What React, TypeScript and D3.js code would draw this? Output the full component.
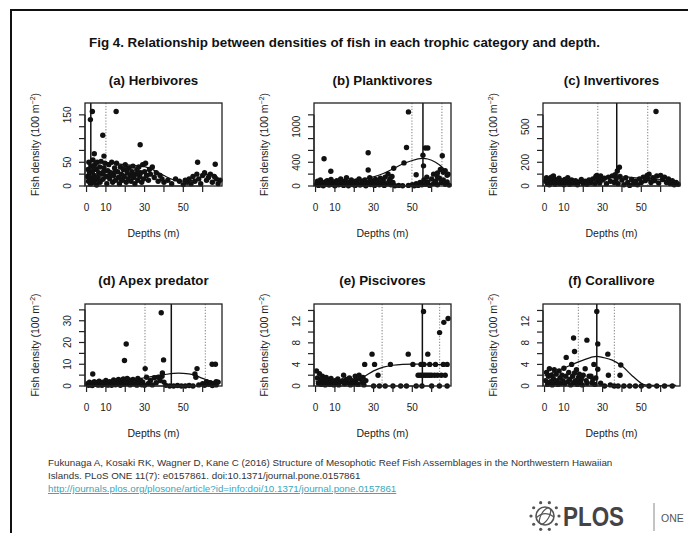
import React from 'react';
import * as d3 from 'd3';

// ---------- data ----------
const depthTicks = [0, 10, 20, 30, 40, 50, 60];
const depthLabels = [0, 10, 30, 50];

const panelTitles = ['(a) Herbivores', '(b) Planktivores', '(c) Invertivores', '(d) Apex predator', '(e) Piscivores', '(f) Corallivore'];

const herbivorePoints: [number, number][] = [
  [2, 140], [3, 157], [4, 68], [8.4, 107], [9, 63], [15.3, 157], [27.7, 87], [57.4, 50], [66.5, 46],
  [0.5, 20], [0.8, 35], [1, 10], [1.2, 50], [1.5, 28], [2, 5], [2.2, 42], [2.5, 15], [3, 30], [3.3, 55], [3.5, 8],
  [4, 22], [4.2, 45], [4.5, 12], [5, 35], [5.2, 2], [5.5, 50], [6, 18], [6.3, 28], [6.8, 40], [7, 8], [7.5, 52],
  [8, 25], [8.5, 14], [9, 38], [9.5, 48], [10, 20], [10.5, 5], [11, 32], [11.5, 45], [12, 15], [12.5, 28], [13, 50],
  [13.5, 8], [14, 22], [14.5, 38], [15, 12], [15.5, 48], [16, 30], [16.5, 18], [17, 5], [17.5, 40], [18, 25],
  [18.5, 12], [19, 35], [19.5, 20], [20, 45], [20.5, 8], [21, 28], [21.5, 15], [22, 38], [22.5, 22], [23, 10],
  [23.5, 30], [24, 42], [24.5, 18], [25, 5], [25.5, 25], [26, 35], [26.5, 12], [27, 40], [27.5, 20], [28, 28],
  [28.5, 8], [29, 45], [29.5, 15], [30, 30], [30.5, 48], [31, 22], [32, 12], [32.5, 35], [33, 25], [34, 40],
  [35, 18], [36, 28], [37, 10], [38, 22], [39, 15], [40, 8], [42, 12], [44, 5], [46, 15], [48, 10], [50, 3],
  [51, 12], [52, 8], [53, 15], [54, 5], [55, 20], [56, 10], [57, 25], [58, 15], [59, 5], [60, 22], [61, 28],
  [62, 12], [63, 18], [64, 25], [65, 8], [66, 20], [67, 15], [68, 5], [69, 12],
  [1.8, 18], [3.8, 38], [6.5, 10], [8.8, 30], [11.8, 22], [14.8, 30], [17.8, 15], [20.8, 35], [23.8, 20], [26.8, 28],
];
const herbivoreCurveDepth = [2, 5, 10, 15, 20, 25, 30, 35, 40, 45, 50, 55, 60, 63, 66, 69];
const herbivoreCurveValue = [52, 52, 50, 47, 45, 43, 41, 33, 22, 13, 10, 12, 21, 25, 24, 10];

const planktivorePoints: [number, number][] = [
  [4.4, 460], [7.9, 250], [27.2, 560], [27.2, 270], [48, 1250], [47, 650], [56.7, 640], [58, 640], [55.5, 520],
  [65.5, 510], [45.7, 390], [40.4, 300], [55.8, 340], [52, 190], [61, 200], [63, 150], [67, 260], [68, 180],
  [63, 220], [64.5, 280], [66, 230], [68.5, 200],
  [0.5, 30], [1, 80], [1.5, 10], [2, 60], [2.5, 100], [3, 20], [3.5, 50], [4, 5], [5, 70], [5.5, 30], [6, 90],
  [7, 15], [7.5, 55], [8, 110], [9, 25], [9.5, 70], [10, 5], [10.5, 45], [11, 90], [12, 20], [12.5, 60], [13, 120],
  [14, 35], [14.5, 10], [15, 80], [16, 140], [16.5, 40], [17, 5], [18, 65], [18.5, 100], [19, 25], [20, 55],
  [20.5, 10], [21, 85], [22, 40], [22.5, 120], [23, 15], [24, 70], [25, 30], [25.5, 100], [26, 5], [27, 60],
  [28, 140], [28.5, 25], [29, 90], [30, 45], [30.5, 10], [31, 110], [32, 70], [33, 20], [33.5, 130], [34, 50],
  [35, 90], [35.5, 10], [36, 150], [37, 40], [37.5, 200], [38, 80], [38.5, 120], [39, 20], [39.5, 160], [40, 60],
  [41, 5], [43, 10], [45, 5], [48, 10], [50, 20], [51, 5], [52, 40], [53, 10], [54, 60], [55, 20], [56, 100],
  [57, 30], [57.5, 150], [58, 70], [59, 10], [60, 120], [61, 40], [62, 80], [63, 20], [64, 130], [65, 60],
  [66, 100], [67, 30], [68, 70], [69, 15],
];
const planktivoreCurveDepth = [0, 5, 10, 15, 20, 25, 30, 35, 40, 45, 50, 55, 58, 62, 66, 69];
const planktivoreCurveValue = [40, 55, 70, 85, 100, 120, 155, 210, 290, 370, 430, 465, 455, 400, 300, 170];

const invertivorePoints: [number, number][] = [
  [57.6, 628], [38.7, 158], [37.6, 127], [4.6, 85],
  [0.5, 40], [1, 70], [1.5, 20], [2, 55], [2.5, 10], [3, 45], [3.5, 75], [4, 30], [5, 60], [5.5, 15], [6, 50],
  [7, 35], [7.5, 65], [8, 20], [9, 45], [10, 10], [10.5, 55], [11, 30], [12, 70], [12.5, 40], [13, 15], [14, 50],
  [15, 25], [16, 45], [17, 10], [18, 35], [19, 55], [20, 20], [21, 40], [22, 15], [23, 50], [24, 30], [25, 60],
  [26, 20], [26.5, 80], [27, 90], [27.5, 45], [28, 70], [28.5, 25], [29, 85], [30, 50], [31, 65], [32, 20],
  [33, 75], [34, 40], [35, 85], [36, 30], [36.5, 95], [37, 60], [38, 20], [39, 80], [40, 50], [41, 10], [42, 70],
  [43, 30], [44, 5], [45, 55], [46, 20], [47, 40], [48, 10], [49, 60], [50, 30], [51, 75], [52, 45], [53, 90],
  [53.5, 60], [54, 100], [55, 30], [56, 70], [57, 45], [58, 85], [59, 25], [60, 90], [61, 55], [62, 75], [63, 30],
  [64, 60], [65, 20], [66, 45], [67, 10], [68, 30], [69, 15],
];
const invertivoreCurveDepth = [0, 10, 20, 25, 30, 35, 40, 45, 50, 55, 60, 65, 69];
const invertivoreCurveValue = [40, 38, 40, 48, 62, 75, 78, 72, 65, 62, 55, 40, 25];

const apexPoints: [number, number][] = [
  [3.2, 5.5], [19.6, 11.7], [20.5, 19.3], [30.3, 8], [38.6, 33.7], [39.8, 12], [39.2, 6], [39, 4.5], [57.1, 8],
  [56, 5.5], [64.9, 10], [66.6, 10], [56.5, 4], [67, 2],
  [0.5, 1], [1, 0.3], [1.5, 1.8], [2, 0.6], [2.5, 1.2], [3, 0.2], [4, 2], [4.5, 0.8], [5, 1.5], [6, 0.4],
  [6.5, 2.2], [7, 1], [8, 0.3], [8.5, 1.7], [9, 0.8], [10, 2.5], [10.5, 1.2], [11, 0.4], [12, 2], [12.5, 1],
  [13, 0.3], [14, 2.8], [14.5, 1.5], [15, 0.6], [16, 2.2], [16.5, 3], [17, 1], [17.5, 0.3], [18, 2.5], [18.5, 1.6],
  [19, 3.2], [19.5, 0.8], [20, 2], [21, 3.5], [21.5, 1.2], [22, 2.8], [22.5, 0.5], [23, 1.8], [24, 3], [24.5, 1],
  [25, 2.2], [26, 0.4], [26.5, 3.5], [27, 1.5], [28, 2.5], [28.5, 0.6], [29, 1.8], [30, 0.3], [31, 4], [32, 1.2],
  [33, 2.5], [34, 0.5], [35, 3.8], [36, 1.5], [37, 4], [38, 2.5], [40, 1.8], [41, 0.3], [43, 0], [45, 0],
  [47, 0.2], [49, 0], [51, 0], [53, 0.2], [55, 0], [58, 0.5], [60, 1], [61, 0.3], [62, 2], [63, 0.8], [64, 1.5],
  [65, 0.2], [66, 1.2], [67, 0.5], [68, 1.8],
];
const apexCurveDepth = [0, 10, 20, 30, 40, 45, 50, 55, 60, 65, 68];
const apexCurveValue = [0.9, 1.2, 2.3, 3.8, 5.2, 5.8, 5.8, 5.2, 3.5, 2, 0.9];

const piscivorePoints: [number, number][] = [
  [0.5, 2.8], [1, 1.5], [1.5, 0.5], [2, 2.3], [2.5, 1], [3, 0.3], [3.5, 1.8], [4, 0.8], [4.5, 1.3], [5, 0.2],
  [5.5, 1.6], [6, 0.6], [7, 1.1], [7.5, 0.3], [8, 1.4], [9, 0.7], [9.5, 0.2], [10, 1], [11, 0.5], [11.5, 1.3],
  [12, 0.2], [13, 0.8], [14, 1], [14.5, 2], [15, 0.4], [16, 1.2], [17, 0.6], [17.5, 1.5], [18, 0.2], [19, 1],
  [20, 0.5], [20.5, 1.8], [21, 1.1], [22, 0.3], [22.5, 2], [23, 1.4], [24, 0.7], [24.5, 1.6], [25, 0.2], [26, 1],
  [25.4, 4], [29.2, 5.9], [30.5, 4], [32.3, 2], [38.7, 4], [47.9, 5.9], [50.3, 4], [55.8, 13.8], [58, 5.9],
  [64.1, 9.9], [66.3, 11.8], [68.5, 12.5],
  [53, 2], [54, 2], [55, 2], [56, 2], [57, 2], [58, 2], [59, 2], [60, 2], [61.5, 2], [63, 2], [65, 2], [67, 2],
  [54.5, 4], [56, 4], [59, 4], [62, 4], [66, 4], [68, 4],
  [30, 0], [33, 0], [36, 0], [40, 0], [44, 0], [47, 0], [52, 0], [55, 0], [60, 0], [64, 0], [68, 0],
];
const piscivoreCurveDepth = [0, 5, 10, 15, 20, 25, 30, 35, 40, 45, 50, 55, 60, 65, 69];
const piscivoreCurveValue = [0.9, 0.7, 0.6, 0.7, 1.0, 1.7, 2.8, 3.5, 3.85, 4, 4.05, 4.05, 4, 3.95, 3.9];

const corallivorePoints: [number, number][] = [
  [0.5, 1], [1, 2.5], [1.5, 0.3], [2, 1.8], [2.5, 3.2], [3, 0.8], [3.5, 2], [4, 0.2], [4.5, 1.4], [5, 3],
  [5.5, 0.6], [6, 2.2], [6.5, 1], [7, 0.3], [7.5, 2.8], [8, 1.5], [8.5, 0.5], [9, 2], [9.5, 1], [10, 3.3],
  [10.5, 0.4], [11, 1.8], [12, 0.8], [12.5, 2.5], [13, 1.2], [13.5, 0.2], [14, 4], [14.5, 1.8], [15, 0.6],
  [15.5, 2.4], [16, 1], [16.5, 3], [17, 0.3], [17.5, 1.6], [18, 2.2], [18.5, 0.8], [19, 1.3], [19.5, 0.2], [20, 2],
  [21, 3.2], [21.5, 1], [22, 0.5], [23, 1.8], [24, 1.8], [24.5, 0.6], [25, 1.2], [25.5, 4], [26, 0.3], [26.5, 1.5],
  [27, 13.8], [15, 8.9], [21.9, 8.5], [15.5, 6.4], [27.5, 7.8], [11.2, 5.3], [32.7, 5.9], [27.5, 3.1], [33, 2],
  [39.4, 3.9], [39, 2], [29, 0.5], [31, 0], [34, 0.2], [36, 0], [38, 0], [41, 0], [44, 0], [47, 0], [50, 0],
  [54, 0], [58, 0], [62, 0], [66, 0],
];
const corallivoreCurveDepth = [0, 5, 10, 15, 20, 25, 27, 30, 35, 40, 45, 50, 52, 56, 62, 68];
const corallivoreCurveValue = [1.9, 2.6, 3.3, 4.1, 4.8, 5.4, 5.5, 5.3, 4.8, 3.7, 2, 0.5, 0.2, 0.1, 0.1, 0.1];

const yTickSets = [
  [0, 25, 50, 75, 100, 125, 150],
  [0, 200, 400, 600, 800, 1000, 1200],
  [0, 100, 200, 300, 400, 500, 600],
  [0, 5, 10, 15, 20, 25, 30, 35],
  [0, 2, 4, 6, 8, 10, 12, 14],
  [0, 2, 4, 6, 8, 10, 12, 14],
];
const yLabelSets = [[0, 50, 150], [0, 400, 1000], [0, 200, 500], [0, 10, 20, 30], [0, 4, 8, 12], [0, 4, 8, 12]];
const yMaxes = [175, 1400, 700, 37.7, 15.2, 15.2];
const solidDepths = [2.2, 55.5, 37.3, 43.8, 55.2, 27.0];
const dottedDepths = [[10], [49.8, 65.3], [27.5, 53.3], [30.2, 61.4], [34.4, 64.1], [17.5, 36.1]];

const pointSets = [herbivorePoints, planktivorePoints, invertivorePoints, apexPoints, piscivorePoints, corallivorePoints];
const curveDepths = [herbivoreCurveDepth, planktivoreCurveDepth, invertivoreCurveDepth, apexCurveDepth, piscivoreCurveDepth, corallivoreCurveDepth];
const curveValues = [herbivoreCurveValue, planktivoreCurveValue, invertivoreCurveValue, apexCurveValue, piscivoreCurveValue, corallivoreCurveValue];

const figTitle = 'Fig 4. Relationship between densities of fish in each trophic category and depth.';
const captionLines = [
  'Fukunaga A, Kosaki RK, Wagner D, Kane C (2016) Structure of Mesophotic Reef Fish Assemblages in the Northwestern Hawaiian',
  'Islands. PLoS ONE 11(7): e0157861. doi:10.1371/journal.pone.0157861',
];
const captionLink = 'http://journals.plos.org/plosone/article?id=info:doi/10.1371/journal.pone.0157861';

// ---------- layout ----------
const W = 688, H = 533;
const colLeft = [85, 314, 543];
const frameW = 137;
const rowTop = [103, 304];
const rowBottom = [186, 386];
const FONT = 'Liberation Sans, Arial, Helvetica, sans-serif';

function Panel({ i }: { i: number }) {
  const col = i % 3, row = Math.floor(i / 3);
  const left = colLeft[col], right = left + frameW;
  const top = rowTop[row], bottom = rowBottom[row];
  const x = d3.scaleLinear().domain([-0.8, 70]).range([left, right]);
  const y = d3.scaleLinear().domain([0, yMaxes[i]]).range([bottom, top]);
  const line = d3.line<number>()
    .x((_, k) => x(curveDepths[i][k]))
    .y((v) => y(v))
    .curve(d3.curveCatmullRom.alpha(0.5));
  const yT = yTickSets[i];
  const cx = (left + right) / 2, cy = (top + bottom) / 2;
  const off = row * 200;
  return (
    <g>
      <text x={cx} y={85 + off} textAnchor="middle" fontWeight="bold" fontSize={13.3} fontFamily={FONT} fill="#111">{panelTitles[i]}</text>
      {dottedDepths[i].map((d, k) => (
        <line key={k} x1={x(d)} x2={x(d)} y1={top} y2={bottom} stroke="#999" strokeWidth={1.2} strokeDasharray="1.3,1.6" />
      ))}
      {pointSets[i].map(([d, v], k) => (
        <circle key={k} cx={x(d)} cy={y(v)} r={2.7} fill="#111" />
      ))}
      <path d={line(curveValues[i]) || ''} fill="none" stroke="#111" strokeWidth={1.2} />
      <line x1={x(solidDepths[i])} x2={x(solidDepths[i])} y1={top} y2={bottom} stroke="#111" strokeWidth={1.5} />
      <rect x={left} y={top} width={frameW} height={bottom - top} fill="none" stroke="#222" strokeWidth={1.3} />
      <line x1={x(depthTicks[0])} x2={x(depthTicks[depthTicks.length - 1])} y1={bottom} y2={bottom} stroke="#222" strokeWidth={1.2} />
      {depthTicks.map((t) => (
        <line key={t} x1={x(t)} x2={x(t)} y1={bottom} y2={bottom + 6} stroke="#222" strokeWidth={1.2} />
      ))}
      {depthLabels.map((t) => (
        <text key={t} x={x(t)} y={bottom + 24.5} textAnchor="middle" fontSize={10} fontFamily={FONT} fill="#222">{t}</text>
      ))}
      <text x={cx} y={236.5 + off} textAnchor="middle" fontSize={10.5} fontFamily={FONT} fill="#222">Depths (m)</text>
      <line x1={left} x2={left} y1={y(yT[0])} y2={y(yT[yT.length - 1])} stroke="#222" strokeWidth={1.2} />
      {yT.map((t) => (
        <line key={t} x1={left - 6} x2={left} y1={y(t)} y2={y(t)} stroke="#222" strokeWidth={1.2} />
      ))}
      {yLabelSets[i].map((t) => (
        <text key={t} transform={`translate(${left - 14},${y(t)}) rotate(-90)`} textAnchor="middle" fontSize={10} fontFamily={FONT} fill="#222">{t}</text>
      ))}
      <text transform={`translate(${left - 46},${cy}) rotate(-90)`} textAnchor="middle" fontSize={10.5} fontFamily={FONT} fill="#222">
        Fish density (100 m<tspan fontSize={7} dy={-4}>−2</tspan><tspan dy={4}>)</tspan>
      </text>
    </g>
  );
}

function PlosLogo() {
  const cx = 545, cy = 516;
  const dots = d3.range(10).map((k) => (k / 10) * Math.PI * 2);
  return (
    <g>
      {dots.map((a, k) => (
        <circle key={k} cx={cx + 14 * Math.cos(a)} cy={cy + 14 * Math.sin(a)} r={1.6} fill="#555" />
      ))}
      <circle cx={cx} cy={cy} r={9} fill="none" stroke="#555" strokeWidth={1.6} />
      <ellipse cx={cx} cy={cy} rx={4} ry={9} fill="none" stroke="#555" strokeWidth={1.2} transform={`rotate(30,${cx},${cy})`} />
      <path d={`M${cx - 9},${cy + 2} Q${cx},${cy - 6} ${cx + 9},${cy + 1}`} fill="none" stroke="#555" strokeWidth={1.2} />
      <text x={563} y={526} fontSize={27} fontWeight="bold" fontFamily={FONT} fill="#444" textLength={61} lengthAdjust="spacingAndGlyphs">PLOS</text>
      <line x1={654} x2={654} y1={503} y2={531} stroke="#888" strokeWidth={1} />
      <text x={661} y={522} fontSize={10.5} fontFamily={FONT} fill="#555">ONE</text>
    </g>
  );
}

export default function App() {
  return (
    <svg width={W} height={H} style={{ position: 'fixed', left: 0, top: 0, background: '#fff' }}>
      <rect x={0} y={0} width={W} height={H} fill="#fff" />
      <path d={`M11,${H} L11,10 L${W},10`} fill="none" stroke="#111" strokeWidth={2} />
      <text x={89} y={46.5} fontSize={12} fontWeight="bold" fontFamily={FONT} fill="#111" textLength={511} lengthAdjust="spacingAndGlyphs">{figTitle}</text>
      {d3.range(6).map((i) => <Panel key={i} i={i} />)}
      <text x={48} y={466} fontSize={9.8} fontFamily={FONT} fill="#333">{captionLines[0]}</text>
      <text x={48} y={479} fontSize={9.8} fontFamily={FONT} fill="#333">{captionLines[1]}</text>
      <text x={48} y={492} fontSize={9.8} fontFamily={FONT} fill="#3aa6b9" textDecoration="underline">{captionLink}</text>
      <PlosLogo />
    </svg>
  );
}
